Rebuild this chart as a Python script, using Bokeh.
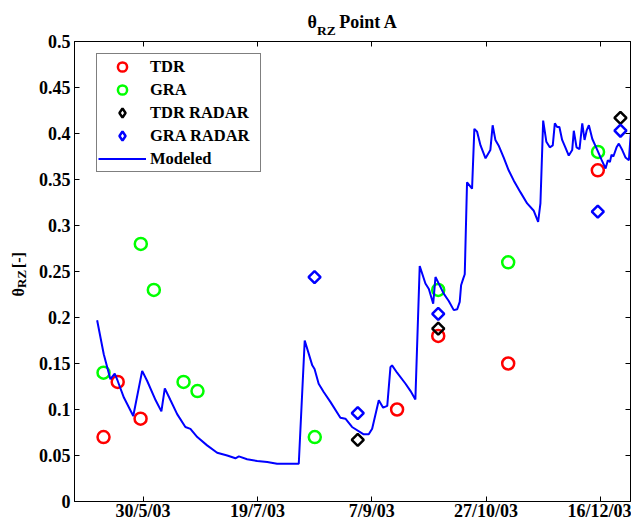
import math
from bokeh.plotting import figure
from bokeh.models import (Range1d, FixedTicker, Legend, LegendItem, Label,
                          LinearAxis, CustomJSTickFormatter)
from bokeh.embed import file_html
from bokeh.resources import INLINE

# ---- data (x = day of year 2003) ----
x_ticks = [150, 200, 250, 300, 350]
x_tick_labels = ["30/5/03", "19/7/03", "7/9/03", "27/10/03", "16/12/03"]
y_ticks = [0, 0.05, 0.1, 0.15, 0.2, 0.25, 0.3, 0.35, 0.4, 0.45, 0.5]
y_tick_labels = ["0", "0.05", "0.1", "0.15", "0.2", "0.25", "0.3", "0.35", "0.4", "0.45", "0.5"]

tdr_day = [132.7, 138.9, 148.9, 261.1, 279.1, 309.7, 348.9]
tdr_val = [0.07, 0.13, 0.09, 0.10, 0.18, 0.15, 0.36]

gra_day = [132.7, 149.0, 154.7, 167.7, 173.8, 225.1, 279.1, 309.7, 349.0]
gra_val = [0.14, 0.28, 0.23, 0.13, 0.12, 0.07, 0.23, 0.26, 0.38]

tdr_radar_day = [243.9, 279.1, 358.8]
tdr_radar_val = [0.067, 0.188, 0.417]

gra_radar_day = [225.0, 243.9, 279.1, 348.9, 358.8]
gra_radar_val = [0.244, 0.096, 0.204, 0.315, 0.403]

model_day = [129.9, 132.8, 135.7, 137.6, 138.9, 141.6, 145.7, 149.6, 151.8, 155.5,
             158.0, 159.5, 162.0, 164.9, 168.5, 170.7, 173.7, 178.0, 182.4, 186.8,
             190.4, 191.9, 195.5, 199.9, 204.3, 208.6, 218.1, 220.7, 224.0, 225.0,
             226.8, 229.0, 232.0, 236.3, 238.5, 241.4, 246.5, 248.7, 250.2, 253.1,
             255.0, 256.8, 258.2, 258.9, 261.1, 264.8, 267.0, 269.1, 271.0, 273.5,
             275.0, 276.9, 277.9, 281.5, 283.7, 285.9, 287.4, 288.5, 289.1, 290.0,
             290.7, 291.7, 293.9, 294.9, 296.1, 297.6, 299.8, 301.9, 302.9, 304.1,
             305.5, 307.7, 309.9, 312.1, 315.1, 318.0, 320.9, 322.8, 323.8, 325.0,
             326.4, 327.9, 329.2, 330.1, 331.1, 332.1, 333.3, 334.7, 336.2, 337.7,
             338.4, 339.6, 340.9, 342.1, 343.1, 344.0, 345.0, 346.5, 348.7, 350.6,
             352.3, 353.3, 354.2, 354.9, 355.7, 357.1, 358.1, 359.6, 361.0, 362.5,
             363.5]
model_val = [0.197, 0.160, 0.133, 0.139, 0.131, 0.113, 0.093, 0.142, 0.131, 0.110,
             0.098, 0.123, 0.110, 0.095, 0.081, 0.079, 0.070, 0.061, 0.053, 0.050,
             0.047, 0.049, 0.046, 0.044, 0.043, 0.041, 0.041, 0.175, 0.148, 0.144,
             0.128, 0.119, 0.108, 0.091, 0.090, 0.081, 0.073, 0.073, 0.079, 0.110,
             0.102, 0.104, 0.146, 0.148, 0.140, 0.128, 0.120, 0.111, 0.256, 0.237,
             0.231, 0.215, 0.244, 0.226, 0.218, 0.208, 0.209, 0.217, 0.235, 0.242,
             0.247, 0.347, 0.340, 0.405, 0.402, 0.387, 0.373, 0.382, 0.409, 0.393,
             0.387, 0.374, 0.360, 0.349, 0.336, 0.324, 0.316, 0.304, 0.324, 0.414,
             0.391, 0.385, 0.387, 0.411, 0.407, 0.407, 0.393, 0.385, 0.376, 0.382,
             0.403, 0.385, 0.383, 0.411, 0.393, 0.403, 0.409, 0.394, 0.382, 0.371,
             0.362, 0.371, 0.369, 0.377, 0.375, 0.385, 0.389, 0.382, 0.374, 0.371,
             0.407]

FONT = "Liberation Serif"
NBSP = "\u00a0"

p = figure(width=631, height=525, output_backend="svg", toolbar_location=None,
           title=None, x_range=Range1d(120, 363.2), y_range=Range1d(0, 0.5),
           min_border_left=74, min_border_right=1, min_border_top=41,
           min_border_bottom=24)
p.background_fill_color = "white"
p.border_fill_color = "white"
p.outline_line_color = "black"
p.outline_line_width = 1
p.xgrid.visible = False
p.ygrid.visible = False

xax = p.below[0]
yax = p.left[0]
xax.ticker = FixedTicker(ticks=x_ticks)
yax.ticker = FixedTicker(ticks=y_ticks)
fmt_code = "const i = tv.indexOf(tick); return i < 0 ? '' : tl[i];"
xax.formatter = CustomJSTickFormatter(args=dict(tv=x_ticks, tl=x_tick_labels), code=fmt_code)
yax.formatter = CustomJSTickFormatter(args=dict(tv=y_ticks, tl=y_tick_labels), code=fmt_code)
for ax in (xax, yax):
    ax.major_tick_in = 5
    ax.major_tick_out = 0
    ax.minor_tick_line_color = None
    ax.axis_line_color = "black"
    ax.major_tick_line_color = "black"
    ax.major_label_text_font = FONT
    ax.major_label_text_font_style = "bold"
    ax.major_label_text_font_size = "18px"
    ax.major_label_text_color = "black"
xax.major_label_standoff = -1
yax.major_label_standoff = 4

top_ax = LinearAxis(ticker=FixedTicker(ticks=x_ticks), formatter=CustomJSTickFormatter(code="return '';"),
                    major_tick_in=5, major_tick_out=0, minor_tick_line_color=None,
                    major_label_standoff=0, major_label_text_font_size="1px",
                    axis_line_color="black")
right_ax = LinearAxis(ticker=FixedTicker(ticks=y_ticks), formatter=CustomJSTickFormatter(code="return '';"),
                      major_tick_in=5, major_tick_out=0, minor_tick_line_color=None,
                      major_label_standoff=0, major_label_text_font_size="1px",
                      axis_line_color="black")
p.add_layout(top_ax, "above")
p.add_layout(right_ax, "right")

r_tdr = p.scatter(tdr_day, tdr_val, marker="circle", size=12, fill_color=None,
                  line_color="#ff0000", line_width=2.5)
r_gra = p.scatter(gra_day, gra_val, marker="circle", size=12, fill_color=None,
                  line_color="#00ff00", line_width=2.5)
r_tdrr = p.scatter(tdr_radar_day, tdr_radar_val, marker="square", angle=math.pi / 4,
                   size=8.5, fill_color=None, line_color="#000000", line_width=2.5)
r_grar = p.scatter(gra_radar_day, gra_radar_val, marker="square", angle=math.pi / 4,
                   size=8.5, fill_color=None, line_color="#0000ff", line_width=2.5)
r_model = p.line(model_day, model_val, line_color="#0000ff", line_width=2)

# diamond keys for the legend (the legend draws markers unrotated and sizes them
# from its own glyph box); zero-sized so they add nothing to the plot itself
k_tdrr = p.scatter(tdr_radar_day, tdr_radar_val, marker="diamond", size=0,
                   fill_color=None, line_color="#000000", line_width=2.5)
k_grar = p.scatter(gra_radar_day, gra_radar_val, marker="diamond", size=0,
                   fill_color=None, line_color="#0000ff", line_width=2.5)

legend = Legend(items=[LegendItem(label="TDR", renderers=[r_tdr]),
                       LegendItem(label="GRA", renderers=[r_gra]),
                       LegendItem(label="TDR RADAR", renderers=[k_tdrr]),
                       LegendItem(label="GRA RADAR", renderers=[k_grar]),
                       LegendItem(label="Modeled", renderers=[r_model])],
                location=(22, 329), margin=0, padding=1, spacing=0,
                glyph_width=48, glyph_height=23, label_height=23,
                label_standoff=4, label_width=109,
                border_line_color="black", border_line_width=1,
                background_fill_color="white", background_fill_alpha=1,
                label_text_font=FONT, label_text_font_style="bold",
                label_text_font_size="16.5px", label_text_color="black")
p.add_layout(legend)

# title: theta_RZ Point A  (placed in the side panels so it is not clipped)
lab_common = dict(text_font=FONT, text_font_style="bold", text_color="black",
                  text_baseline="alphabetic", text_align="left")
p.add_layout(Label(x=221.9, y=0.5207, text="θ" + NBSP * 5 + "Point A",
                   text_font_size="18px", **lab_common), "above")
p.add_layout(Label(x=226.1, y=0.5125, text="RZ", text_font_size="13.5px",
                   **lab_common), "above")

# y-axis label: theta_RZ [-]
p.add_layout(Label(x=95.7, y=0.2228, text="θ" + NBSP * 5 + "[-]", angle=math.pi / 2,
                   text_font_size="16px", **lab_common), "left")
p.add_layout(Label(x=97.0, y=0.2321, text="RZ", angle=math.pi / 2,
                   text_font_size="13px", **lab_common), "left")

open("out.html", "w").write(file_html(p, INLINE))
